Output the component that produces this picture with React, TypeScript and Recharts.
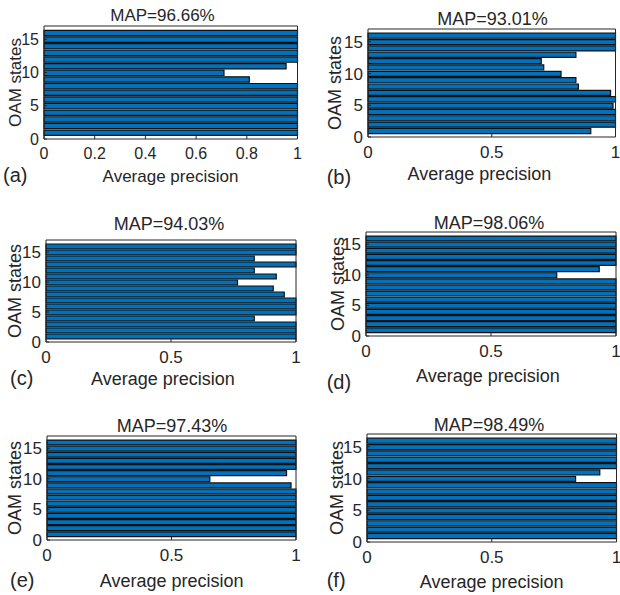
import React from 'react'
import { BarChart, Bar, XAxis, YAxis } from 'recharts'

// OAM states 1..16, average precision per state, one list per sub-figure
const STATES = [1, 2, 3, 4, 5, 6, 7, 8, 9, 10, 11, 12, 13, 14, 15, 16]
const AP_A = [1, 1, 1, 1, 1, 1, 1, 1, 0.81, 0.71, 0.955, 1, 1, 1, 1, 1]
const AP_B = [0.9, 1, 1, 1, 0.99, 1, 0.98, 0.85, 0.84, 0.78, 0.71, 0.7, 0.84, 1, 1, 1]
const AP_C = [1, 1, 1, 0.833, 1, 1, 1, 0.953, 0.909, 0.766, 0.921, 0.833, 1, 0.833, 1, 1]
const AP_D = [1, 1, 1, 1, 1, 1, 1, 1, 1, 0.763, 0.933, 1, 1, 1, 1, 1]
const AP_E = [1, 1, 1, 1, 1, 1, 1, 1, 0.98, 0.654, 0.962, 1, 1, 1, 1, 1]
const AP_F = [1, 1, 1, 1, 1, 1, 1, 1, 1, 0.836, 0.933, 1, 1, 1, 1, 1]

const TITLES = ['MAP=96.66%', 'MAP=93.01%', 'MAP=94.03%', 'MAP=98.06%', 'MAP=97.43%', 'MAP=98.49%']
const LETTERS = ['(a)', '(b)', '(c)', '(d)', '(e)', '(f)']
const X_TICKS_A = [0, 0.2, 0.4, 0.6, 0.8, 1]
const X_TICKS = [0, 0.5, 1]
const Y_TICKS = [0, 5, 10, 15]

const BLUE = '#0072BD'
const AXIS = '#262626'
const FONT = '"Liberation Sans", Arial, Helvetica, sans-serif'

// plot box of each axes in page pixels, plus where its texts sit
const LAYOUT = [
  { x0: 43.5, y0: 26, x1: 297, y1: 139, yLab: 28.5, xLabX: 170, xLabY: 181.7, tX: 162.5, tY: 21.4, lX: 3, lY: 182.2, fs: 17 },
  { x0: 368, y0: 29, x1: 615.5, y1: 137, yLab: 33, xLabX: 479.5, xLabY: 180, tX: 492.5, tY: 25.1, lX: 326.7, lY: 183.5, fs: 18 },
  { x0: 46, y0: 240, x1: 296, y1: 342, yLab: 31, xLabX: 163, xLabY: 385, tX: 169, tY: 230.1, lX: 10, lY: 385.2, fs: 18 },
  { x0: 366, y0: 232, x1: 616, y1: 336, yLab: 28, xLabX: 488, xLabY: 381.7, tX: 489, tY: 228.9, lX: 326.7, lY: 388.5, fs: 18 },
  { x0: 47, y0: 436, x1: 296, y1: 540, yLab: 32, xLabX: 171.7, xLabY: 587.3, tX: 172, tY: 431.7, lX: 10, lY: 587, fs: 18 },
  { x0: 367, y0: 434, x1: 616.5, y1: 542, yLab: 30, xLabX: 491.7, xLabY: 588.3, tX: 489, tY: 430.9, lX: 326.7, lY: 587, fs: 18 },
]

const ML = 70
const MT = 8
const MR = 8
const MB = 60

function Panel({ values, xTicks, g }: any) {
  const data = STATES.map((s, i) => ({ state: s, ap: values[i] }))
  const pw = g.x1 - g.x0
  const ph = g.y1 - g.y0
  const barSize = (ph / 17) * 0.8
  const tickFs = g.fs - 1

  const yLabel = () => (
    <text
      x={ML - g.yLab}
      y={MT + ph / 2}
      transform={`rotate(-90 ${ML - g.yLab} ${MT + ph / 2})`}
      textAnchor="middle"
      dominantBaseline="central"
      fontSize={g.fs}
      fill={AXIS}
    >
      OAM states
    </text>
  )
  const xLabel = () => (
    <text x={ML + (g.xLabX - g.x0)} y={MT + (g.xLabY - g.y0)} textAnchor="middle" fontSize={g.fs} fill={AXIS}>
      Average precision
    </text>
  )

  // axes are 1px thick, margins shrink by the same so the plot box stays put
  return (
    <div style={{ position: 'absolute', left: g.x0 - ML, top: g.y0 - MT }}>
      <BarChart
        width={pw + ML + MR}
        height={ph + MT + MB}
        data={data}
        layout="vertical"
        margin={{ top: MT - 1, left: ML - 1, right: MR - 1, bottom: MB - 1 }}
      >
        <XAxis
          type="number"
          dataKey="ap"
          domain={[0, 1]}
          ticks={xTicks}
          interval={0}
          height={1}
          tickSize={-3}
          tickMargin={12}
          stroke={AXIS}
          tick={{ fill: AXIS, fontSize: tickFs }}
          label={{ content: xLabel }}
        />
        <XAxis
          xAxisId="top"
          orientation="top"
          type="number"
          domain={[0, 1]}
          ticks={xTicks}
          interval={0}
          height={1}
          tickSize={-3}
          tick={false}
          stroke={AXIS}
        />
        <YAxis
          type="number"
          dataKey="state"
          domain={[0, 17]}
          ticks={Y_TICKS}
          interval={0}
          reversed
          width={1}
          tickSize={-3}
          tickMargin={8}
          stroke={AXIS}
          tick={{ fill: AXIS, fontSize: tickFs }}
          label={{ content: yLabel }}
        />
        <YAxis
          yAxisId="right"
          orientation="right"
          type="number"
          domain={[0, 17]}
          ticks={Y_TICKS}
          interval={0}
          reversed
          width={1}
          tickSize={-3}
          tick={false}
          stroke={AXIS}
        />
        <Bar dataKey="ap" fill={BLUE} stroke="#111" strokeWidth={1.2} barSize={barSize} isAnimationActive={false} />
      </BarChart>
    </div>
  )
}

export default function App() {
  const series = [AP_A, AP_B, AP_C, AP_D, AP_E, AP_F]
  return (
    <div
      style={{
        position: 'absolute',
        left: 0,
        top: 0,
        width: 620,
        height: 595,
        background: '#fff',
        fontFamily: FONT,
        overflow: 'hidden',
      }}
    >
      {series.map((v, i) => (
        <Panel key={i} values={v} xTicks={i === 0 ? X_TICKS_A : X_TICKS} g={LAYOUT[i]} />
      ))}
      <svg width={620} height={595} style={{ position: 'absolute', left: 0, top: 0, pointerEvents: 'none' }}>
        {LAYOUT.map((g, i) => (
          <g key={i} fill={AXIS} fontFamily={FONT}>
            <text x={g.tX} y={g.tY} textAnchor="middle" fontSize={g.fs}>
              {TITLES[i]}
            </text>
            <text x={g.lX} y={g.lY} fontSize={20}>
              {LETTERS[i]}
            </text>
          </g>
        ))}
      </svg>
    </div>
  )
}
